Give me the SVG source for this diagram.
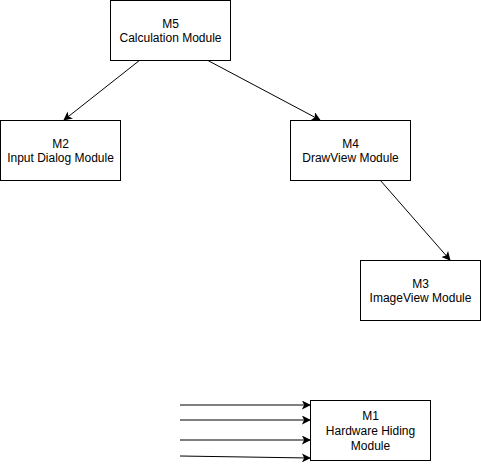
<svg xmlns="http://www.w3.org/2000/svg" width="481" height="466" viewBox="0 0 481 466">
<defs>
<marker id="arr" viewBox="0 0 10 10" refX="9" refY="5" markerWidth="9" markerHeight="9" markerUnits="userSpaceOnUse" orient="auto">
<path d="M0,0 L10,5 L0,10 L2.5,5 Z" fill="#000"/>
</marker>
<style>
.box{fill:#fff;stroke:#000;stroke-width:1}
.lbl{font-family:"Liberation Sans",Arial,sans-serif;font-size:12px;fill:#000;text-anchor:middle}
.edge{stroke:#000;stroke-width:1;fill:none;marker-end:url(#arr)}
</style>
</defs>
<rect width="481" height="466" fill="#fff"/>
<g id="connectors">
<line class="edge" x1="140" y1="60" x2="64" y2="120"/>
<line class="edge" x1="207" y1="60" x2="320" y2="120"/>
<line class="edge" x1="380" y1="180" x2="450" y2="260"/>
<line class="edge" x1="180" y1="405" x2="310" y2="405"/>
<line class="edge" x1="180" y1="420" x2="310" y2="420"/>
<line class="edge" x1="180" y1="440" x2="310" y2="440"/>
<line class="edge" x1="180" y1="456" x2="310" y2="458"/>
</g>
<g id="M5">
<rect class="box" x="110.5" y="0.5" width="120" height="60"/>
<text class="lbl" x="170.5" y="28">M5</text>
<text class="lbl" x="170.5" y="42">Calculation Module</text>
</g>
<g id="M2">
<rect class="box" x="0.5" y="120.5" width="120" height="60"/>
<text class="lbl" x="60.5" y="148">M2</text>
<text class="lbl" x="60.5" y="162">Input Dialog Module</text>
</g>
<g id="M4">
<rect class="box" x="290.5" y="120.5" width="120" height="60"/>
<text class="lbl" x="350.5" y="148">M4</text>
<text class="lbl" x="350.5" y="162">DrawView Module</text>
</g>
<g id="M3">
<rect class="box" x="360.5" y="260.5" width="120" height="60"/>
<text class="lbl" x="420.5" y="288">M3</text>
<text class="lbl" x="420.5" y="302">ImageView Module</text>
</g>
<g id="M1">
<rect class="box" x="310.5" y="400.5" width="120" height="60"/>
<text class="lbl" x="370.5" y="420">M1</text>
<text class="lbl" x="370.5" y="435">Hardware Hiding</text>
<text class="lbl" x="370.5" y="450">Module</text>
</g>
</svg>
